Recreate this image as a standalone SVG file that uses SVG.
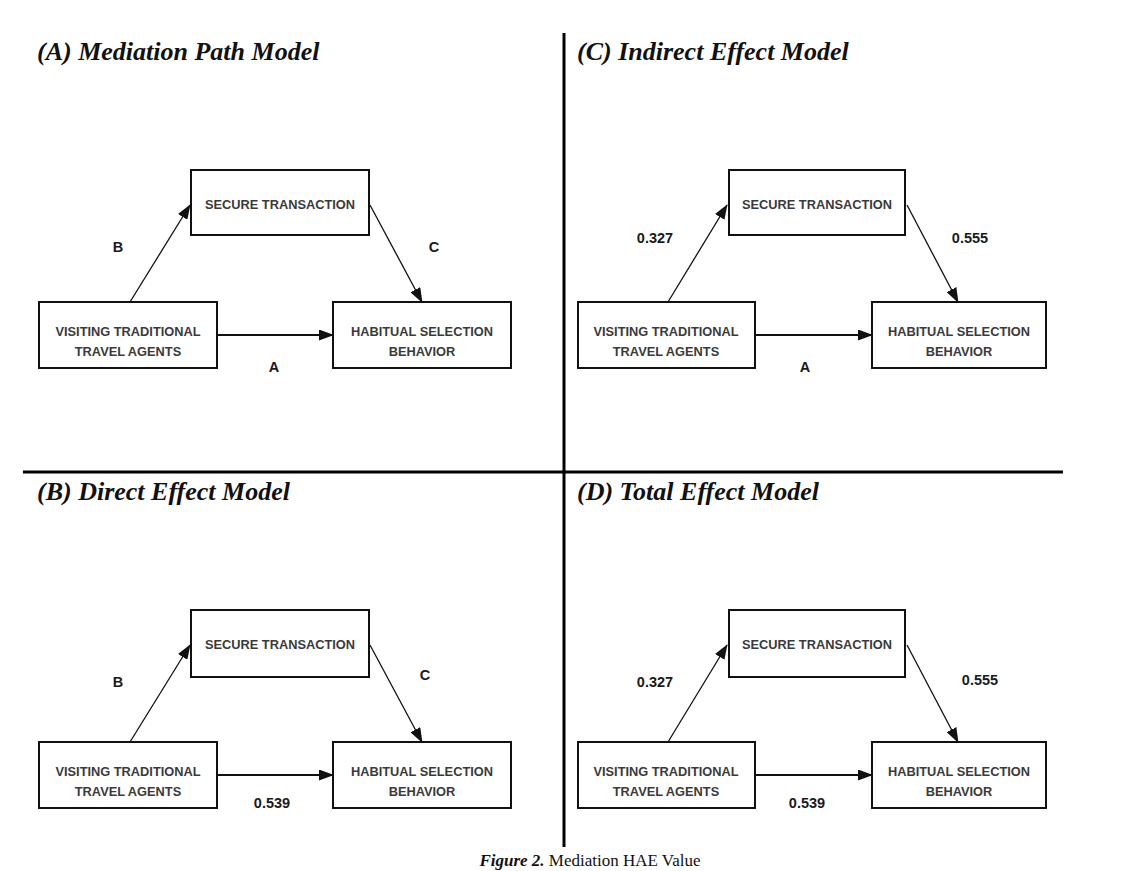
<svg xmlns="http://www.w3.org/2000/svg" width="1125" height="871" viewBox="0 0 1125 871">
<style>
.title{font-family:"Liberation Serif",serif;font-style:italic;font-weight:bold;font-size:26px;fill:#111}
.box{fill:#fff;stroke:#111;stroke-width:2}
.bt{font-family:"Liberation Sans",Arial,sans-serif;font-weight:bold;font-size:12.8px;fill:#3a3a3a;text-anchor:middle}
.lbl{font-family:"Liberation Sans",Arial,sans-serif;font-weight:bold;font-size:14.5px;fill:#1a1a1a;text-anchor:middle}
.diag{stroke:#111;stroke-width:1.3;fill:none}
.hor{stroke:#111;stroke-width:2;fill:none}
.div{stroke:#000;stroke-width:3}
.cap{font-family:"Liberation Serif",serif;font-size:17px;fill:#111;text-anchor:middle}
</style>
<defs>
<marker id="ah" markerUnits="userSpaceOnUse" markerWidth="15" markerHeight="11" refX="14" refY="5.5" orient="auto">
<path d="M0,0 L15,5.5 L0,11 Z" fill="#111"/>
</marker>
</defs>
<rect width="1125" height="871" fill="#fff"/>
<g id="dividers">
<line class="div" x1="564" y1="33" x2="564" y2="847"/>
<line class="div" x1="23" y1="472" x2="1063" y2="472"/>
</g>
<g id="titles">
<text class="title" x="37" y="60">(A) Mediation Path Model</text>
<text class="title" x="577" y="60">(C) Indirect Effect Model</text>
<text class="title" x="37" y="500">(B) Direct Effect Model</text>
<text class="title" x="577" y="500">(D) Total Effect Model</text>
</g>
<g id="connectors">
<line class="diag" x1="130" y1="302" x2="190" y2="205" marker-end="url(#ah)"/>
<line class="diag" x1="370" y1="205" x2="422" y2="302" marker-end="url(#ah)"/>
<line class="hor" x1="217" y1="335" x2="333" y2="335" marker-end="url(#ah)"/>
<line class="diag" x1="668" y1="302" x2="727" y2="205" marker-end="url(#ah)"/>
<line class="diag" x1="907" y1="205" x2="958" y2="302" marker-end="url(#ah)"/>
<line class="hor" x1="755" y1="335" x2="872" y2="335" marker-end="url(#ah)"/>
<line class="diag" x1="130" y1="742" x2="190" y2="645" marker-end="url(#ah)"/>
<line class="diag" x1="370" y1="645" x2="422" y2="742" marker-end="url(#ah)"/>
<line class="hor" x1="217" y1="775" x2="333" y2="775" marker-end="url(#ah)"/>
<line class="diag" x1="668" y1="742" x2="727" y2="645" marker-end="url(#ah)"/>
<line class="diag" x1="907" y1="645" x2="958" y2="742" marker-end="url(#ah)"/>
<line class="hor" x1="755" y1="775" x2="872" y2="775" marker-end="url(#ah)"/>
</g>
<g id="labels">
<text class="lbl" x="118" y="252">B</text>
<text class="lbl" x="434" y="252">C</text>
<text class="lbl" x="274" y="372">A</text>
<text class="lbl" x="655" y="243">0.327</text>
<text class="lbl" x="970" y="243">0.555</text>
<text class="lbl" x="805" y="372">A</text>
<text class="lbl" x="118" y="687">B</text>
<text class="lbl" x="425" y="680">C</text>
<text class="lbl" x="272" y="808">0.539</text>
<text class="lbl" x="655" y="687">0.327</text>
<text class="lbl" x="980" y="685">0.555</text>
<text class="lbl" x="807" y="808">0.539</text>
</g>
<g id="A-secure"><rect class="box" x="191" y="170" width="178" height="65"/><text class="bt" x="280" y="209">SECURE TRANSACTION</text></g>
<g id="A-visiting"><rect class="box" x="39" y="302" width="178" height="66"/><text class="bt" x="128" y="336">VISITING TRADITIONAL</text><text class="bt" x="128" y="356">TRAVEL AGENTS</text></g>
<g id="A-habitual"><rect class="box" x="333" y="302" width="178" height="66"/><text class="bt" x="422" y="336">HABITUAL SELECTION</text><text class="bt" x="422" y="356">BEHAVIOR</text></g>
<g id="C-secure"><rect class="box" x="729" y="170" width="176" height="65"/><text class="bt" x="817" y="209">SECURE TRANSACTION</text></g>
<g id="C-visiting"><rect class="box" x="578" y="302" width="177" height="66"/><text class="bt" x="666" y="336">VISITING TRADITIONAL</text><text class="bt" x="666" y="356">TRAVEL AGENTS</text></g>
<g id="C-habitual"><rect class="box" x="872" y="302" width="174" height="66"/><text class="bt" x="959" y="336">HABITUAL SELECTION</text><text class="bt" x="959" y="356">BEHAVIOR</text></g>
<g id="B-secure"><rect class="box" x="191" y="610" width="178" height="67"/><text class="bt" x="280" y="649">SECURE TRANSACTION</text></g>
<g id="B-visiting"><rect class="box" x="39" y="742" width="178" height="66"/><text class="bt" x="128" y="776">VISITING TRADITIONAL</text><text class="bt" x="128" y="796">TRAVEL AGENTS</text></g>
<g id="B-habitual"><rect class="box" x="333" y="742" width="178" height="66"/><text class="bt" x="422" y="776">HABITUAL SELECTION</text><text class="bt" x="422" y="796">BEHAVIOR</text></g>
<g id="D-secure"><rect class="box" x="729" y="610" width="176" height="67"/><text class="bt" x="817" y="649">SECURE TRANSACTION</text></g>
<g id="D-visiting"><rect class="box" x="578" y="742" width="177" height="66"/><text class="bt" x="666" y="776">VISITING TRADITIONAL</text><text class="bt" x="666" y="796">TRAVEL AGENTS</text></g>
<g id="D-habitual"><rect class="box" x="872" y="742" width="174" height="66"/><text class="bt" x="959" y="776">HABITUAL SELECTION</text><text class="bt" x="959" y="796">BEHAVIOR</text></g>
<g id="caption"><text class="cap" x="590" y="866"><tspan font-weight="bold" font-style="italic">Figure 2.</tspan> Mediation HAE Value</text></g>
</svg>
